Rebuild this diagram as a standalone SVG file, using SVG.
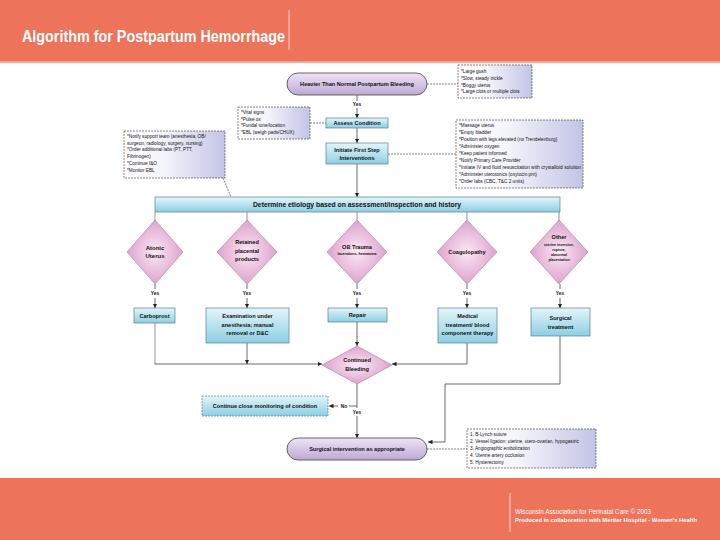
<svg xmlns="http://www.w3.org/2000/svg" width="720" height="540" viewBox="0 0 720 540">
<defs>
<linearGradient id="gBlue" x1="0" y1="0" x2="0" y2="1"><stop offset="0" stop-color="#e4f5fa"/><stop offset="1" stop-color="#8ccfe3"/></linearGradient>
<linearGradient id="gPill" x1="0" y1="0" x2="0" y2="1"><stop offset="0" stop-color="#eee4f5"/><stop offset="1" stop-color="#bea9d4"/></linearGradient>
<radialGradient id="gDia" cx="0.5" cy="0.5" r="0.6"><stop offset="0" stop-color="#fbe8f5"/><stop offset="1" stop-color="#d895c6"/></radialGradient>
<linearGradient id="gNote" x1="0" y1="0" x2="1" y2="0"><stop offset="0" stop-color="#ffffff"/><stop offset="0.4" stop-color="#f4f4fb"/><stop offset="1" stop-color="#c3c4e6"/></linearGradient>
<marker id="ah" viewBox="0 0 6 6" refX="6" refY="3" markerWidth="4.5" markerHeight="4.5" orient="auto" markerUnits="userSpaceOnUse"><path d="M0,0 L6,3 L0,6 Z" fill="#222"/></marker>
</defs>
<style>
.t{font-family:"Liberation Sans",Arial,sans-serif;font-weight:bold;fill:#111;text-anchor:middle}
.s{font-size:5.6px}
.d{font-size:6px}
.tiny{font-size:3.6px}
.y{font-size:4.8px}
.n{font-family:"Liberation Sans",Arial,sans-serif;font-size:4.7px;fill:#111}
.box{fill:url(#gBlue);stroke:#5a7f8c;stroke-width:0.7}
.pill{fill:url(#gPill);stroke:#444;stroke-width:0.8}
.dia{fill:url(#gDia);stroke:#a77a9a;stroke-width:0.6}
.note{fill:url(#gNote);stroke:#333;stroke-width:0.6;stroke-dasharray:2,1}
.c{fill:none;stroke:#444;stroke-width:0.8}
.cg{fill:none;stroke:#888;stroke-width:0.9}
.dash{fill:none;stroke:#333;stroke-width:0.6;stroke-dasharray:2,1}
.a{marker-end:url(#ah)}
</style>
<rect x="0" y="0" width="720" height="62" fill="#ED735A"/>
<rect x="0" y="61" width="720" height="2" fill="#f3a896"/>
<text x="22" y="42" font-family="Liberation Sans,Arial,sans-serif" font-weight="bold" font-size="16.5" fill="#fff" textLength="263" lengthAdjust="spacingAndGlyphs">Algorithm for Postpartum Hemorrhage</text>
<line x1="289" y1="10" x2="289" y2="50" stroke="#fbd5cc" stroke-width="1"/>
<rect x="0" y="478" width="720" height="62" fill="#ED735A"/>
<line x1="510" y1="493" x2="510" y2="532" stroke="#fbd5cc" stroke-width="1"/>
<text x="515" y="514" font-family="Liberation Sans,Arial,sans-serif" font-size="7.2" fill="#fff" textLength="136" lengthAdjust="spacingAndGlyphs">Wisconsin Association for Perinatal Care © 2003</text>
<text x="515" y="522" font-family="Liberation Sans,Arial,sans-serif" font-weight="bold" font-size="5.4" fill="#fff" textLength="182" lengthAdjust="spacingAndGlyphs">Produced in collaboration with Meriter Hospital - Women's Health</text>

<g id="connectors">
<line class="dash" x1="427" y1="84" x2="458" y2="84"/>
<line class="c" x1="357" y1="95" x2="357" y2="101"/>
<line class="c a" x1="357" y1="108" x2="357" y2="118"/>
<line class="dash" x1="310" y1="123" x2="326" y2="123"/>
<line class="c a" x1="357" y1="128" x2="357" y2="143"/>
<line class="dash" x1="388" y1="154" x2="456" y2="154"/>
<line class="dash" x1="223" y1="178" x2="231" y2="197"/>
<line class="c a" x1="357" y1="164" x2="357" y2="197"/>
<line class="cg" x1="155" y1="212" x2="155" y2="221"/>
<line class="cg" x1="247" y1="212" x2="247" y2="221"/>
<line class="cg" x1="357" y1="212" x2="357" y2="221"/>
<line class="cg" x1="467" y1="212" x2="467" y2="221"/>
<line class="cg" x1="559" y1="212" x2="559" y2="221"/>
<line class="c" x1="155" y1="284" x2="155" y2="289"/>
<line class="c" x1="247" y1="284" x2="247" y2="289"/>
<line class="c" x1="357" y1="284" x2="357" y2="289"/>
<line class="c" x1="467" y1="284" x2="467" y2="289"/>
<line class="c" x1="560" y1="284" x2="560" y2="289"/>
<line class="c a" x1="155" y1="298" x2="155" y2="308"/>
<line class="c a" x1="247" y1="298" x2="247" y2="308"/>
<line class="c a" x1="357" y1="298" x2="357" y2="308"/>
<line class="c a" x1="467" y1="298" x2="467" y2="308"/>
<line class="c a" x1="560" y1="298" x2="560" y2="308"/>
<line class="cg" x1="155" y1="323" x2="155" y2="364"/>
<line class="c a" x1="154.5" y1="364" x2="322" y2="364"/>
<line class="c a" x1="247" y1="343" x2="247" y2="364"/>
<line class="c a" x1="357" y1="322" x2="357" y2="346"/>
<polyline class="c a" points="467,343 467,364 392,364"/>
<polyline class="c a" points="560,336 560,384 445,384 445,442 428,442"/>
<line class="c" x1="357" y1="384" x2="357" y2="408"/>
<line class="c" x1="357" y1="406" x2="349" y2="406"/>
<line class="c a" x1="338" y1="406" x2="329" y2="406"/>
<line class="c a" x1="357" y1="416" x2="357" y2="438"/>
<line class="dash" x1="427" y1="449" x2="467" y2="449"/>
</g>

<g id="start">
<rect class="pill" x="287" y="73" width="140" height="22" rx="11"/>
<text class="t s" x="357" y="86">Heavier Than Normal Postpartum Bleeding</text>
</g>
<g id="note-signs">
<rect class="note" x="458" y="65" width="74" height="33"/>
<text class="n" x="461" y="73">*Large gush</text>
<text class="n" x="461" y="80">*Slow, steady trickle</text>
<text class="n" x="461" y="86.5">*Boggy uterus</text>
<text class="n" x="461" y="93">*Large clots or multiple clots</text>
</g>
<text class="t y" x="357" y="106">Yes</text>
<g id="assess">
<rect class="box" x="326" y="118" width="62" height="10"/>
<text class="t s" x="357" y="125">Assess Condition</text>
</g>
<g id="note-vitals">
<rect class="note" x="238" y="107" width="72" height="32"/>
<text class="n" x="241" y="114">*Vital signs</text>
<text class="n" x="241" y="120.5">*Pulse ox</text>
<text class="n" x="241" y="127">*Fundal tone/location</text>
<text class="n" x="241" y="133.5">*EBL (weigh pads/CHUX)</text>
</g>
<g id="initiate">
<rect class="box" x="326" y="143" width="62" height="21"/>
<text class="t s" x="357" y="152">Initiate First Step</text>
<text class="t s" x="357" y="160">Interventions</text>
</g>
<g id="note-first">
<rect class="note" x="456" y="120" width="127" height="68"/>
<text class="n" x="459" y="127">*Massage uterus</text>
<text class="n" x="459" y="134">*Empty bladder</text>
<text class="n" x="459" y="141">*Position with legs elevated (no Trendelenburg)</text>
<text class="n" x="459" y="148">*Administer oxygen</text>
<text class="n" x="459" y="155">*Keep patient informed</text>
<text class="n" x="459" y="162">*Notify Primary Care Provider</text>
<text class="n" x="459" y="169" textLength="122" lengthAdjust="spacingAndGlyphs">*Initiate IV and fluid resuscitation with crystalloid solution</text>
<text class="n" x="459" y="176">*Administer uterotonics (oxytocin prn)</text>
<text class="n" x="459" y="183">*Order labs (CBC, T&amp;C 2 units)</text>
</g>
<g id="note-support">
<rect class="note" x="124" y="131" width="101" height="47"/>
<text class="n" x="127" y="137.5">*Notify support team (anesthesia, OB/</text>
<text class="n" x="127" y="144.5">surgeon, radiology, surgery, nursing)</text>
<text class="n" x="127" y="151">*Order additional labs (PT, PTT,</text>
<text class="n" x="127" y="158">Fibrinogen)</text>
<text class="n" x="127" y="165">*Continue I&amp;O</text>
<text class="n" x="127" y="172">*Monitor EBL</text>
</g>
<g id="etiology">
<rect class="box" x="155" y="197" width="405" height="15"/>
<text class="t" x="357" y="207" font-size="6.8">Determine etiology based on assessment/inspection and history</text>
</g>
<g id="atonic">
<polygon class="dia" points="155,220 183,252 155,284 127,252"/>
<text class="t d" x="155" y="250">Atonic</text>
<text class="t d" x="155" y="258">Uterus</text>
</g>
<g id="retained">
<polygon class="dia" points="247,220 277,252 247,284 217,252"/>
<text class="t s" x="247" y="244">Retained</text>
<text class="t s" x="247" y="252.5">placental</text>
<text class="t s" x="247" y="261">products</text>
</g>
<g id="trauma">
<polygon class="dia" points="357,220 387,252 357,284 327,252"/>
<text class="t s" x="357" y="249">OB Trauma</text>
<text class="t tiny" x="357" y="255">lacerations, hematoma</text>
</g>
<g id="coag">
<polygon class="dia" points="467,220 497,252 467,284 437,252"/>
<text class="t s" x="467" y="254">Coagulopathy</text>
</g>
<g id="other">
<polygon class="dia" points="559,220 588,252 559,284 530,252"/>
<text class="t s" x="559" y="239">Other</text>
<text class="t tiny" x="559" y="245.5">uterine inversion,</text>
<text class="t tiny" x="559" y="250.5">rupture,</text>
<text class="t tiny" x="559" y="255.5">abnormal</text>
<text class="t tiny" x="559" y="260.5">placentation</text>
</g>
<text class="t y" x="155" y="295">Yes</text>
<text class="t y" x="247" y="295">Yes</text>
<text class="t y" x="357" y="295">Yes</text>
<text class="t y" x="467" y="295">Yes</text>
<text class="t y" x="560" y="295">Yes</text>
<g id="carboprost">
<rect class="box" x="134" y="308" width="41" height="15"/>
<text class="t s" x="154.5" y="318">Carboprost</text>
</g>
<g id="exam">
<rect class="box" x="206" y="308" width="83" height="35"/>
<text class="t s" x="247.5" y="318">Examination under</text>
<text class="t s" x="247.5" y="326.5">anesthesia; manual</text>
<text class="t s" x="247.5" y="335">removal or D&amp;C</text>
</g>
<g id="repair">
<rect class="box" x="328" y="308" width="59" height="14"/>
<text class="t s" x="357.5" y="317">Repair</text>
</g>
<g id="medical">
<rect class="box" x="438" y="308" width="59" height="35"/>
<text class="t s" x="467.5" y="318">Medical</text>
<text class="t s" x="467.5" y="326.5">treatment/ blood</text>
<text class="t s" x="467.5" y="335">component therapy</text>
</g>
<g id="surgical-tx">
<rect class="box" x="531" y="308" width="59" height="28"/>
<text class="t s" x="560.5" y="320">Surgical</text>
<text class="t s" x="560.5" y="328.5">treatment</text>
</g>
<g id="continued">
<polygon class="dia" points="357,346 392,365 357,384 322,365"/>
<text class="t s" x="357" y="362">Continued</text>
<text class="t s" x="357" y="371">Bleeding</text>
</g>
<text class="t y" x="344" y="408">No</text>
<text class="t y" x="357" y="414">Yes</text>
<g id="monitor">
<rect x="202" y="396" width="126" height="20" fill="url(#gBlue)" stroke="#5a7f8c" stroke-width="0.7" stroke-dasharray="2,1"/>
<text class="t s" x="265" y="408">Continue close monitoring of condition</text>
</g>
<g id="surgical-int">
<rect class="pill" x="287" y="438" width="140" height="22" rx="11"/>
<text class="t s" x="357" y="451">Surgical intervention as appropriate</text>
</g>
<g id="note-surgical">
<rect class="note" x="467" y="429" width="129" height="39"/>
<text class="n" x="470" y="435.5">1. B-Lynch suture</text>
<text class="n" x="470" y="442.5">2. Vessel ligation: uterine, utero-ovarian, hypogastric</text>
<text class="n" x="470" y="449.5">3. Angiographic embolization</text>
<text class="n" x="470" y="456.5">4. Uterine artery occlusion</text>
<text class="n" x="470" y="463.5">5. Hysterectomy</text>
</g>
</svg>
